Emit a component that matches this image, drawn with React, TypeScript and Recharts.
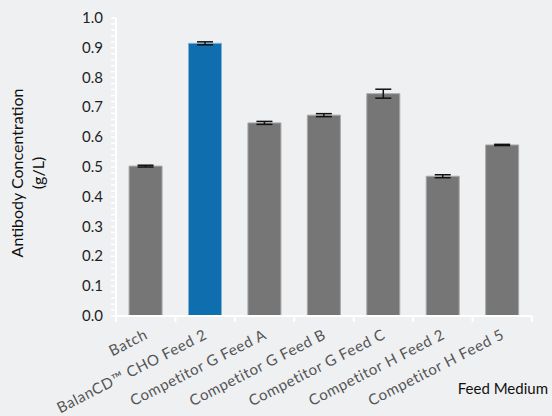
import { Bar, BarChart, Cell, ErrorBar, XAxis, YAxis } from "recharts";

const categories = [
  "Batch",
  "BalanCD™ CHO Feed 2",
  "Competitor G Feed A",
  "Competitor G Feed B",
  "Competitor G Feed C",
  "Competitor H Feed 2",
  "Competitor H Feed 5",
];
const concentration = [0.503, 0.915, 0.648, 0.674, 0.746, 0.469, 0.574];
const errors = [0.003, 0.005, 0.005, 0.005, 0.015, 0.005, 0.002];
const barColors = ["#767676", "#0f6eae", "#767676", "#767676", "#767676", "#767676", "#767676"];
const barStrokes = ["#a9a9a9", "#7fb0d6", "#a9a9a9", "#a9a9a9", "#a9a9a9", "#a9a9a9", "#a9a9a9"];
const yTicks = Array.from({ length: 51 }, (_, i) => Math.round(i * 2) / 100);

const data = categories.map((name, i) => ({
  name,
  value: concentration[i],
  err: errors[i],
}));

const font = "Lato, 'Open Sans', sans-serif";

function YTick(props: any) {
  const { x, y, payload } = props;
  const v = payload.value;
  const major = Math.abs(v * 10 - Math.round(v * 10)) < 1e-6;
  if (!major) return <g />;
  return (
    <text x={x + 2} y={y} dy={5} textAnchor="end" fontSize={15} fill="#1e1e1e" fontFamily={font}>
      {v.toFixed(1)}
    </text>
  );
}

function XTick(props: any) {
  const { x, y, payload, index, width } = props;
  const band = width ? width / categories.length : 59.43;
  const axisY = y - 8;
  return (
    <g>
      <line x1={x - band / 2} x2={x - band / 2} y1={axisY} y2={axisY + 6} stroke="#ffffff" strokeWidth={2} />
      {index === categories.length - 1 && (
        <line x1={x + band / 2} x2={x + band / 2} y1={axisY} y2={axisY + 6} stroke="#ffffff" strokeWidth={2} />
      )}
      <text
        x={x + 3}
        y={y + 14}
        textAnchor="end"
        fontSize={15}
        letterSpacing={0.6}
        fill="#555555"
        fontFamily={font}
        transform={`rotate(-27, ${x + 3}, ${y + 14})`}
      >
        {payload.value}
      </text>
    </g>
  );
}

export default function App() {
  return (
    <div style={{ position: "absolute", left: 0, top: 0, width: 552, height: 416, background: "#eff0f2" }}>
      <BarChart
        width={552}
        height={416}
        data={data}
        margin={{ top: 18, right: 20, bottom: 0, left: 0 }}
        barCategoryGap="22%"
      >
        <XAxis
          dataKey="name"
          interval={0}
          height={100}
          tick={<XTick />}
          tickLine={false}
          axisLine={{ stroke: "#ffffff", strokeWidth: 2 }}
          label={{
            content: () => (
              <text x={548} y={394} textAnchor="end" fontSize={15} fill="#111111" fontFamily={font}>
                Feed Medium
              </text>
            ),
          }}
        />
        <YAxis
          width={116}
          domain={[0, 1]}
          ticks={yTicks}
          interval={0}
          tick={<YTick />}
          tickSize={5}
          tickMargin={10}
          tickLine={{ stroke: "#ffffff", strokeWidth: 1.5 }}
          axisLine={{ stroke: "#ffffff", strokeWidth: 2 }}
          label={{
            content: () => (
              <g fontFamily={font} fontSize={16} fill="#111111">
                <text x={23} y={173} textAnchor="middle" transform="rotate(-90, 23, 173)">
                  Antibody Concentration
                </text>
                <text x={44} y={173} textAnchor="middle" transform="rotate(-90, 44, 173)">
                  (g/L)
                </text>
              </g>
            ),
          }}
        />
        <Bar dataKey="value" isAnimationActive={false} strokeWidth={1}>
          {data.map((d, i) => (
            <Cell key={d.name} fill={barColors[i]} stroke={barStrokes[i]} />
          ))}
          <ErrorBar dataKey="err" width={8} stroke="#111111" strokeWidth={1.5} />
        </Bar>
      </BarChart>
    </div>
  );
}
